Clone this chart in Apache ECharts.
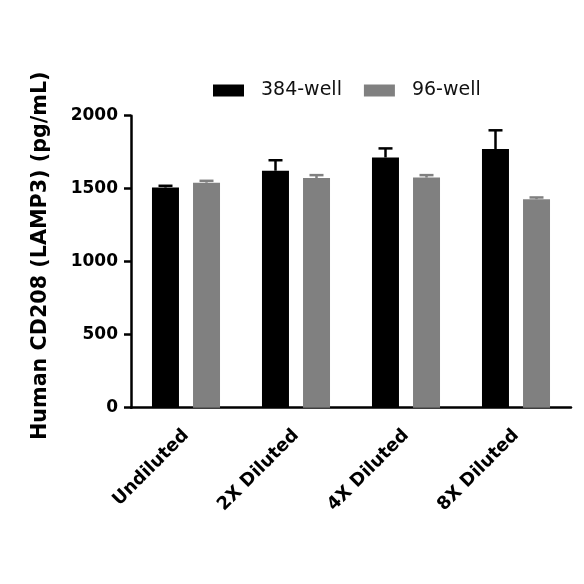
<!DOCTYPE html>
<html>
<head>
<meta charset="utf-8">
<script src="https://cdn.jsdelivr.net/npm/echarts@6/dist/echarts.min.js"></script>
<style>html,body{margin:0;padding:0;background:#fff}#c{width:584px;height:584px}</style>
</head>
<body>
<div id="c"></div>
<script>
const categories = ['Undiluted', '2X Diluted', '4X Diluted', '8X Diluted'];
const well384 = [1508, 1623, 1714, 1772];
const well384Err = [12, 72, 62, 128];
const well96 = [1541, 1573, 1576, 1428];
const well96Err = [13, 20, 17, 12];
const yTicks = [0, 500, 1000, 1500, 2000];

const FONT = '"DejaVu Sans", sans-serif';
const chart = echarts.init(document.getElementById('c'));

function errSeries(name, values, errs, idx, color) {
  return {
    name: name + '-err',
    type: 'custom',
    z: 5,
    silent: true,
    data: values.map((v, i) => [i, v, v + errs[i]]),
    renderItem: function (params, api) {
      const ci = api.value(0);
      const base = api.coord([ci, api.value(1)]);
      const top = api.coord([ci, api.value(2)]);
      const barW = 27, gap = 14;
      const off = (idx === 0 ? -1 : 1) * (barW + gap) / 2;
      const x = base[0] + off;
      const hw = 7;
      return {
        type: 'group',
        children: [
          { type: 'line', shape: { x1: x, y1: base[1], x2: x, y2: top[1] }, style: { stroke: color, lineWidth: 2.5 } },
          { type: 'line', shape: { x1: x - hw, y1: top[1], x2: x + hw, y2: top[1] }, style: { stroke: color, lineWidth: 2.5 } }
        ]
      };
    }
  };
}

chart.setOption({
  animation: false,
  backgroundColor: '#fff',
  legend: {
    top: 76,
    left: 208,
    itemWidth: 31,
    itemHeight: 12,
    itemGap: 22,
    textStyle: { fontFamily: FONT, fontSize: 19, color: '#111', padding: [0, 0, 0, 12] },
    data: [
      { name: '384-well', icon: 'rect' },
      { name: '96-well', icon: 'rect' }
    ]
  },
  grid: { left: 131, right: 13, top: 115.7, bottom: 176.3 },
  xAxis: {
    type: 'category',
    data: categories,
    axisLine: { lineStyle: { color: '#000', width: 2.5 } },
    axisTick: { alignWithLabel: true, length: 7, lineStyle: { color: '#000', width: 2.5 } },
    axisLabel: { rotate: 45, fontFamily: FONT, fontWeight: 'bold', fontSize: 18, color: '#000', margin: 25 }
  },
  yAxis: {
    type: 'value',
    min: 0, max: 2000, interval: 500,
    name: 'Human CD208 (LAMP3) (pg/mL)',
    nameLocation: 'middle',
    nameGap: 80,
    nameTextStyle: { fontFamily: FONT, fontWeight: 'bold', fontSize: 20.7, color: '#000', padding: [0, 0, 0, 12] },
    splitLine: { show: false },
    axisLine: { show: true, lineStyle: { color: '#000', width: 2.5 } },
    axisTick: { show: true, length: 7, lineStyle: { color: '#000', width: 2.5 } },
    axisLabel: {
      fontFamily: FONT, fontWeight: 'bold', fontSize: 17, color: '#000', margin: 13,
      formatter: v => yTicks.includes(v) ? String(v) : ''
    }
  },
  series: [
    { name: '384-well', type: 'bar', data: well384, barWidth: 27, barGap: '52%', itemStyle: { color: '#000' } },
    { name: '96-well', type: 'bar', data: well96, barWidth: 27, barGap: '52%', itemStyle: { color: '#808080' } },
    errSeries('384-well', well384, well384Err, 0, '#000'),
    errSeries('96-well', well96, well96Err, 1, '#808080')
  ]
});
</script>
</body>
</html>
